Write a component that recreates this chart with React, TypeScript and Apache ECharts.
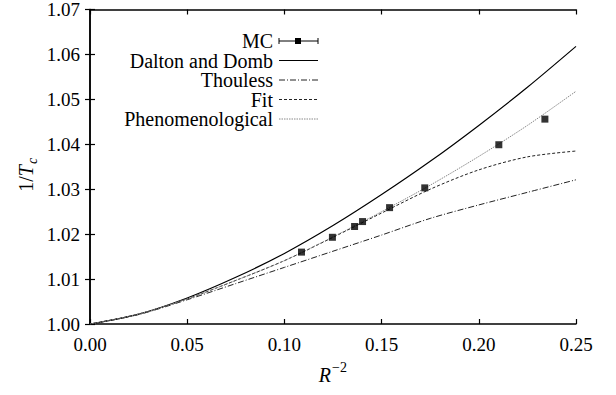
import React, { useEffect, useRef } from "react";
import * as echarts from "echarts";

const xs = [0, 0.025, 0.05, 0.075, 0.1, 0.125, 0.15, 0.175, 0.2, 0.225, 0.25];
const daltonDomb = [1.0, 1.0022, 1.0058, 1.0104, 1.0157, 1.0219, 1.0288, 1.0362, 1.0442, 1.0527, 1.0618];
const thouless = [1.0, 1.0021, 1.0054, 1.009, 1.0126, 1.0162, 1.0198, 1.0235, 1.0265, 1.0293, 1.0321];
const fit = [1.0, 1.0022, 1.0056, 1.0097, 1.0141, 1.0193, 1.0247, 1.03, 1.0343, 1.0372, 1.0385];
const phenomenological = [1.0, 1.0022, 1.0056, 1.0097, 1.0141, 1.0194, 1.025, 1.0309, 1.0373, 1.0442, 1.0518];

const mcX = [0.1088, 0.1247, 0.1361, 0.1402, 0.1541, 0.1722, 0.2103, 0.234];
const mcY = [1.016, 1.0193, 1.0217, 1.0228, 1.0259, 1.0303, 1.0399, 1.0456];

const xTicks = { min: 0, max: 0.25, interval: 0.05 };
const yTicks = { min: 1.0, max: 1.07, interval: 0.01 };

const legendNames = ["MC", "Dalton and Domb", "Thouless", "Fit", "Phenomenological"];

const FAMILY = "Liberation Serif";

const pairs = (x: number[], y: number[]) => x.map((v, i) => [v, y[i]]);

const plainText = (content: string, size: number, italic: boolean, extra: any) => ({
  type: "text",
  style: {
    text: content,
    fontSize: size, fontFamily: FAMILY, fontStyle: italic ? "italic" : "normal", fontWeight: "normal", fill: "#000",
    ...extra,
  },
});

export default function App() {
  const ref = useRef<HTMLDivElement>(null);
  useEffect(() => {
    if (!ref.current) return;
    const chart = echarts.init(ref.current, null, { renderer: "svg" });
    const axisLine = { show: true, lineStyle: { color: "#000", width: 1.5 } };
    const tick = { show: true, inside: true, length: 5, lineStyle: { color: "#000", width: 1.2 } };
    const rowY = [41, 60.5, 80, 99.5, 119];
    const lx1 = 279, lx2 = 318, textX = 273;
    const lineStyles = [
      null,
      { stroke: "#000", lineWidth: 1.2 },
      { stroke: "#222", lineWidth: 1, lineDash: [6, 2, 1, 2] },
      { stroke: "#222", lineWidth: 1, lineDash: [3, 2] },
      { stroke: "#888", lineWidth: 1, lineDash: [1.5, 1] },
    ];
    const legendGraphics: any[] = [];
    legendNames.forEach((n, i) => {
      legendGraphics.push(plainText(n, 20, false, { x: textX, y: rowY[i], align: "right", verticalAlign: "middle", lineHeight: 17 }));
      if (i === 0) {
        legendGraphics.push({ type: "line", shape: { x1: lx1, y1: rowY[0], x2: lx2, y2: rowY[0] }, style: { stroke: "#000", lineWidth: 1 } });
        legendGraphics.push({ type: "line", shape: { x1: lx1, y1: rowY[0] - 3, x2: lx1, y2: rowY[0] + 3 }, style: { stroke: "#000", lineWidth: 1 } });
        legendGraphics.push({ type: "line", shape: { x1: lx2, y1: rowY[0] - 3, x2: lx2, y2: rowY[0] + 3 }, style: { stroke: "#000", lineWidth: 1 } });
        legendGraphics.push({ type: "rect", shape: { x: 295, y: rowY[0] - 3, width: 6, height: 6 }, style: { fill: "#000" } });
      } else {
        legendGraphics.push({ type: "line", shape: { x1: lx1, y1: rowY[i], x2: lx2, y2: rowY[i] }, style: lineStyles[i] });
      }
    });

    const option: any = {
      animation: false,
      backgroundColor: "#fff",
      textStyle: { fontFamily: FAMILY },
      grid: { left: 90, right: 40, top: 8, bottom: 71, show: false },
      xAxis: [
        {
          type: "value", ...xTicks, position: "bottom",
          axisLine, axisTick: tick, splitLine: { show: false },
          axisLabel: { margin: 11, fontSize: 19, fontFamily: FAMILY, color: "#000", formatter: (v: number) => v.toFixed(2) },
        },
        {
          type: "value", ...xTicks, position: "top",
          axisLine, axisTick: tick, splitLine: { show: false }, axisLabel: { show: false },
        },
      ],
      yAxis: [
        {
          type: "value", ...yTicks, position: "left",
          axisLine, axisTick: tick, splitLine: { show: false },
          axisLabel: { margin: 10, fontSize: 19, fontFamily: FAMILY, color: "#000", formatter: (v: number) => v.toFixed(2) },
        },
        {
          type: "value", ...yTicks, position: "right",
          axisLine, axisTick: tick, splitLine: { show: false }, axisLabel: { show: false },
        },
      ],
      series: [
        {
          name: "Dalton and Domb", type: "line", data: pairs(xs, daltonDomb), showSymbol: false, smooth: 0.3,
          lineStyle: { color: "#000", width: 1.2, type: "solid" }, z: 3,
        },
        {
          name: "Thouless", type: "line", data: pairs(xs, thouless), showSymbol: false, smooth: 0.3,
          lineStyle: { color: "#222", width: 1, type: [6, 2, 1, 2] }, z: 3,
        },
        {
          name: "Fit", type: "line", data: pairs(xs, fit), showSymbol: false, smooth: 0.3,
          lineStyle: { color: "#222", width: 1, type: [3, 2] }, z: 3,
        },
        {
          name: "Phenomenological", type: "line", data: pairs(xs, phenomenological), showSymbol: false, smooth: 0.3,
          lineStyle: { color: "#888", width: 1, type: [1.5, 1] }, z: 3,
        },
        {
          name: "MC", type: "scatter", data: pairs(mcX, mcY), symbol: "rect", symbolSize: 7,
          itemStyle: { color: "#000" }, z: 5,
        },
      ],
      graphic: [
        ...legendGraphics,
        {
          type: "group", x: 26, y: 175, rotation: Math.PI / 2,
          children: [
            {
              type: "text",
              style: {
                text: "{n|1/}{i|T}",
                rich: {
                  n: { fontStyle: "normal", fontSize: 20, fontFamily: FAMILY },
                  i: { fontStyle: "italic", fontSize: 20, fontFamily: FAMILY },
                },
                x: 10, y: 0, align: "right", verticalAlign: "middle", fontSize: 20, fontFamily: FAMILY, fill: "#000",
              },
            },
            plainText("c", 14, true, { x: 11, y: 6, align: "left", verticalAlign: "middle" }),
          ],
        },
        plainText("R", 20, true, { x: 331, y: 375, align: "right", verticalAlign: "middle" }),
        plainText("\u22122", 14, false, { x: 332, y: 367, align: "left", verticalAlign: "middle" }),
      ],
    };
    chart.setOption(option);
    return () => chart.dispose();
  }, []);
  return <div ref={ref} style={{ position: "fixed", left: 0, top: 0, width: 616, height: 395, background: "#fff" }} />;
}
